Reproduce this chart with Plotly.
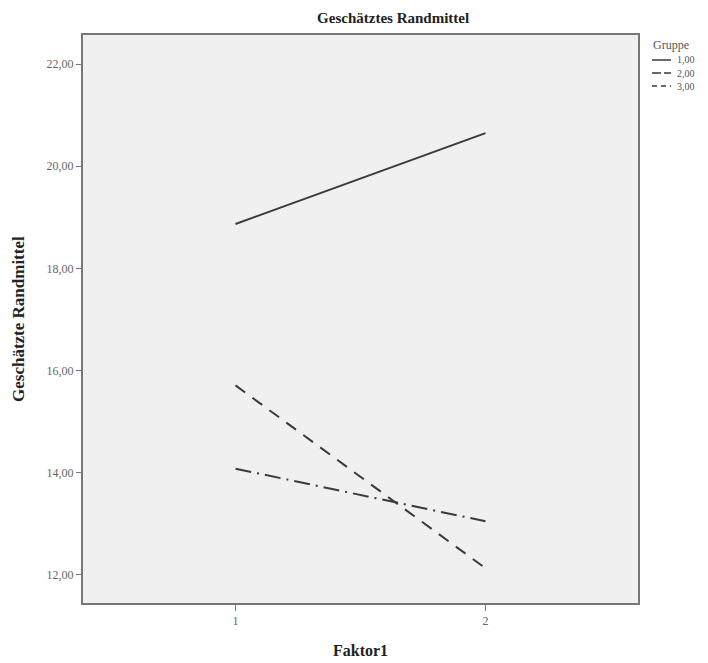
import plotly.graph_objects as go

faktor1 = [1, 2]
gruppen = ["1,00", "2,00", "3,00"]
werte = {
    "1,00": [18.87, 20.65],
    "2,00": [15.71, 12.13],
    "3,00": [14.08, 13.05],
}
dashes = {"1,00": "solid", "2,00": "12px,9px", "3,00": "16px,6px,2px,6px"}
y_ticks = [12, 14, 16, 18, 20, 22]

LINE_COLOR = "#3a3a3a"

fig = go.Figure()
for g in gruppen:
    fig.add_trace(go.Scatter(
        x=faktor1, y=werte[g], mode="lines", name=g,
        line=dict(color=LINE_COLOR, width=2, dash=dashes[g]),
        showlegend=False,
    ))

# manual legend (SPSS style, compact)
legend_y = [0.956, 0.933, 0.910]
shapes = []
annotations = [
    dict(text="Gruppe", xref="paper", yref="paper", x=1, xshift=13, y=0.982,
         xanchor="left", yanchor="middle", showarrow=False,
         font=dict(size=12, color="#555", family="Liberation Serif")),
]
for g, ly in zip(gruppen, legend_y):
    shapes.append(dict(type="line", xref="paper", yref="paper",
                       x0=1 + 14 / 555, x1=1 + 33 / 555, y0=ly, y1=ly,
                       line=dict(color=LINE_COLOR, width=1.5,
                                 dash={"1,00": "solid", "2,00": "9px,3px", "3,00": "5px,4px"}[g])))
    annotations.append(dict(text=g, xref="paper", yref="paper", x=1 + 37 / 555, y=ly,
                            xanchor="left", yanchor="middle", showarrow=False,
                            font=dict(size=10, color="#555", family="Liberation Serif")))

annotations.append(dict(text="<b>Geschätzte Randmittel</b>", xref="paper", yref="paper",
                        x=0, xshift=-65, y=0.5, textangle=-90, showarrow=False,
                        xanchor="center", yanchor="middle",
                        font=dict(size=17, color="#222", family="Liberation Serif")))
annotations.append(dict(text="<b>Faktor1</b>", xref="paper", yref="paper",
                        x=0.5, y=0, yshift=-47, showarrow=False,
                        xanchor="center", yanchor="middle",
                        font=dict(size=16, color="#222", family="Liberation Serif")))

fig.update_layout(
    width=708, height=663,
    margin=dict(l=75, r=78, t=27, b=68),
    paper_bgcolor="white",
    plot_bgcolor="#f0f0f0",
    separators=",.",
    font=dict(family="Liberation Serif", color="#333"),
    title=dict(text="<b>Geschätztes Randmittel</b>", x=0.544, xref="container",
               xanchor="center", y=0.985, yref="container", yanchor="middle",
               font=dict(size=15, color="#222")),
    showlegend=False,
    shapes=shapes,
    annotations=annotations,
    xaxis=dict(
        range=[0.39, 2.61], tickvals=faktor1, ticktext=["1", "2"],
        showgrid=False, zeroline=False, showline=True, mirror=True,
        linecolor="#777", linewidth=2, ticks="outside", ticklen=6,
        tickcolor="#777", tickfont=dict(size=12, color="#666"),
    ),
    yaxis=dict(
        range=[11.45, 22.57], tickvals=y_ticks, tickformat=".2f",
        showgrid=False, zeroline=False, showline=True, mirror=True,
        linecolor="#777", linewidth=2, ticks="outside", ticklen=5,
        tickcolor="#777", tickfont=dict(size=12, color="#666"),
    ),
)

fig.write_html("out.html")
